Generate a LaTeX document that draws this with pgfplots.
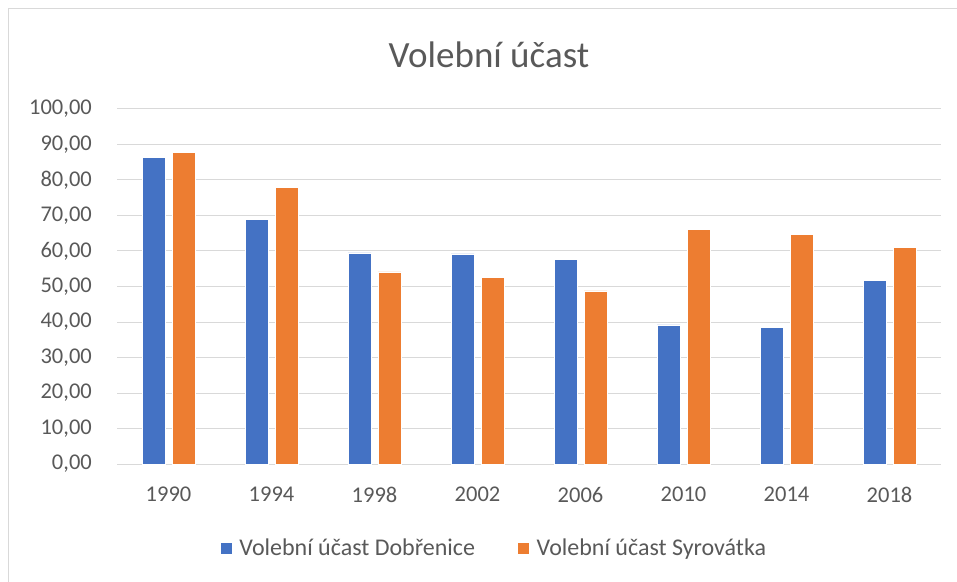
\documentclass[border=0pt]{standalone}
\usepackage{pgfplots}
\pgfplotsset{compat=1.18}
\usepackage{fontspec}
\setmainfont{Carlito}
\definecolor{cblue}{HTML}{4472C4}
\definecolor{corange}{HTML}{ED7D31}
\definecolor{cgrid}{HTML}{D9D9D9}
\definecolor{ctext}{HTML}{595959}
\begin{document}
\begin{tikzpicture}[x=1pt,y=1pt]
\useasboundingbox (0,0) rectangle (957,581);
\draw[cgrid, line width=1pt] (8.5,-10) -- (8.5,572) -- (970,572);
\node[text=ctext, font=\fontsize{37}{42}\selectfont] at (489,526) {Volební účast};
\begin{axis}[
  at={(117pt,117pt)}, anchor=south west,
  width=824pt, height=355pt, scale only axis,
  ybar=7pt, bar width=23pt,
  xmin=-0.5, xmax=7.5, ymin=0, ymax=100,
  enlarge x limits=false,
  xtick={0,...,7},
  xticklabels={1990,1994,1998,2002,2006,2010,2014,2018},
  ytick={0,10,...,100},
  ymajorgrids, grid style={cgrid, line width=1pt},
  axis line style={draw=none},
  major tick length=0pt,
  tick label style={text=ctext, font=\fontsize{22.5}{26}\selectfont},
  yticklabel style={anchor=east, inner sep=0pt, xshift=-25pt},
  xticklabel style={anchor=north, inner sep=0pt, yshift=-23pt},
  /pgf/number format/.cd, fixed, fixed zerofill, precision=2, use comma, 1000 sep={}, assume math mode=true,
  /pgfplots/.cd,
  legend columns=2,
  legend style={draw=none, at={(0.4575,-0.2366)}, anchor=center,
    font=\fontsize{24}{28}\selectfont, text=ctext,
    /tikz/every odd column/.append style={column sep=5pt},
    /tikz/every even column/.append style={column sep=40pt}},
  legend image code/.code={\fill[#1] (0pt,-6pt) rectangle (12pt,6pt);},
]
\addplot[fill=cblue, draw=white, line width=0.5pt] coordinates {(0,86.3) (1,69.0) (2,59.5) (3,59.2) (4,57.7) (5,39.2) (6,38.4) (7,51.8)};
\addplot[fill=corange, draw=white, line width=0.5pt] coordinates {(0,87.8) (1,78.0) (2,54.1) (3,52.6) (4,48.8) (5,66.1) (6,64.6) (7,61.0)};
\legend{Volební účast Dobřenice, Volební účast Syrovátka}
\end{axis}
\end{tikzpicture}
\end{document}
